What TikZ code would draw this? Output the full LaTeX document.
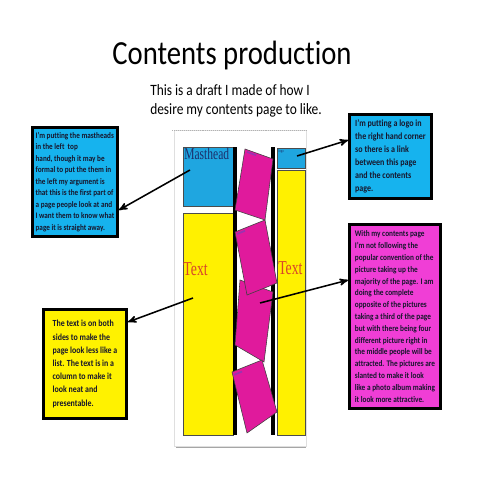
\documentclass[tikz,border=0pt]{standalone}
\usepackage{fontspec}
\setmainfont{Carlito}[FakeStretch=0.85,Ligatures=NoCommon]
\newfontfamily\mockfont{Liberation Serif}[FakeStretch=0.7]
\usepackage{tikz}
\usetikzlibrary{shapes,arrows,positioning,fit}
\definecolor{callblue}{HTML}{16B3EE}
\definecolor{mockblue}{HTML}{1FA6E0}
\definecolor{callpink}{HTML}{F03ED6}
\definecolor{mockpink}{HTML}{E01A9C}
\definecolor{mockyellow}{HTML}{FFF100}
\definecolor{inkdark}{HTML}{16162C}
\definecolor{inknavy}{HTML}{1B2F6B}
\definecolor{textred}{HTML}{D8452A}
\definecolor{tape}{HTML}{9A33B0}
\tikzstyle{note} = [draw=black,line width=2pt,rectangle,inner sep=2pt,align=left,text=inkdark]
\tikzstyle{block} = [draw=black!70,line width=0.4pt]
\tikzstyle{photo} = [draw=black!75,line width=0.4pt,fill=mockpink]
\tikzstyle{pointer} = [-stealth',line width=1.1pt]
\tikzstyle{mocktext} = [inner sep=0.5pt,font=\mockfont\fontsize{14}{14}\selectfont,text=textred]
\def \bw {0.1}

\begin{document}
\begin{tikzpicture}
  \useasboundingbox (0,0) rectangle (12,12);
  % heading
  \node[font=\fontsize{24}{28}\selectfont,anchor=base] (title) at (5.8,10.375) {Contents production};
  \node[font=\fontsize{11.2}{13.5}\selectfont,align=left,anchor=west,inner sep=0] (sub) at (3.75,9.475)
    {This is a draft I made of how I\\desire my contents page to like.};

  % page mock-up
  \draw[gray!25,fill=white] (4.35,0.85) rectangle (7.65,8.75);
  \draw[gray!60,densely dotted] (4.3,8.75) -- (7.65,8.75);
  \draw[gray!70,line width=0.8pt] (4.4,0.82) -- (7.65,0.82);
  \draw[block,fill=mockblue] (4.575,6.85) rectangle (5.825,8.325);
  \node[anchor=north west,inner sep=0.5pt,text=inknavy,font=\mockfont\fontsize{11.7}{12}\selectfont] (mastlbl) at (4.585,8.31) {Masthead};
  \draw[block,fill=mockyellow] (4.575,1.125) rectangle (5.825,6.675);
  \draw[block,fill=mockblue] (6.925,7.8) rectangle (7.625,8.3);
  \node[anchor=north west,inner sep=0.5pt,text=inknavy,font=\mockfont\fontsize{3}{3}\selectfont] (logolbl) at (6.94,8.28) {logo};
  \draw[block,fill=mockyellow] (6.925,1.125) rectangle (7.625,7.75);
  \fill[black] (5.825,1.125) rectangle +(\bw,7.2);
  \fill[black] (6.775,1.125) rectangle +(\bw,7.2);
  \node[mocktext] (ltext) at (4.89,5.275) {Text};
  \node[mocktext] (rtext) at (7.26,5.3) {Text};

  % slanted photos
  \draw[photo] (6.0,5.0) -- (6.825,4.7) -- (6.6,2.95) -- (5.875,3.375) -- cycle;
  \draw[photo] (5.875,6.2) -- (6.625,6.5) -- (6.925,4.925) -- (6.175,4.625) -- cycle;
  \draw[photo] (6.125,8.275) -- (6.825,8.025) -- (6.625,6.5) -- (5.875,6.75) -- cycle;
  \draw[photo] (5.8,2.7) -- (6.55,3.0) -- (6.925,1.7) -- (6.175,1.175) -- cycle;
  \draw[tape,line width=1.2pt] (6.175,8.2) -- (6.4,8.12);
  \draw[tape,line width=1.2pt] (5.925,6.15) -- (6.125,6.23);
  \draw[tape,line width=1.2pt] (5.85,2.63) -- (6.05,2.71);

  \coordinate (mastpt) at (4.75,7.75);
  \coordinate (logopt) at (7.425,8.1);
  \coordinate (photopt) at (6.5,4.425);
  \coordinate (colpt) at (4.825,4.55);

  % notes
  \node[note,fill=callblue,minimum width=2.13cm,minimum height=2.73cm,font=\fontsize{6}{8.2}\selectfont\bfseries] (mastnote) at (1.875,7.45)
    {I'm putting the mastheads\\in the left\ \ top\\hand, though it may be\\formal to put the them in\\the left my argument is\\that this is the first part of\\a page people look at and\\I want them to know what\\page it is straight away.};
  \node[note,fill=callblue,minimum width=2.05cm,minimum height=2.1cm,font=\fontsize{6.7}{9.2}\selectfont\bfseries] (logonote) at (9.7625,8.0875)
    {I'm putting a logo in\\the right hand corner\\so there is a link\\between this page\\and the contents\\page.};
  \node[note,fill=callpink,minimum width=2.28cm,minimum height=4.6cm,font=\fontsize{6.1}{8.4}\selectfont\bfseries] (photonote) at (9.875,4.0875)
    {With my contents page\\I'm not following the\\popular convention of the\\picture taking up the\\majority of the page. I am\\doing the complete\\opposite of the pictures\\taking a third of the page\\but with there being four\\different picture right in\\the middle people will be\\attracted. The pictures are\\slanted to make it look\\like a photo album making\\it look more attractive.};
  \node[note,fill=yellow,minimum width=2.08cm,minimum height=2.73cm,font=\fontsize{6.6}{9.4}\selectfont\bfseries] (textnote) at (2.125,2.9)
    {The text is on both\\sides to make the\\page look less like a\\list. The text is in a\\column to make it\\look neat and\\presentable.};

  % arrows
  \draw[pointer] (mastpt) -- ([yshift=-0.7cm]mastnote.east);
  \draw[pointer] (logopt) -- ([yshift=0.41cm]logonote.west);
  \draw[pointer] (photopt) -- ([yshift=0.91cm]photonote.west);
  \draw[pointer] (colpt) -- ([yshift=1.05cm]textnote.east);
\end{tikzpicture}
\end{document}
